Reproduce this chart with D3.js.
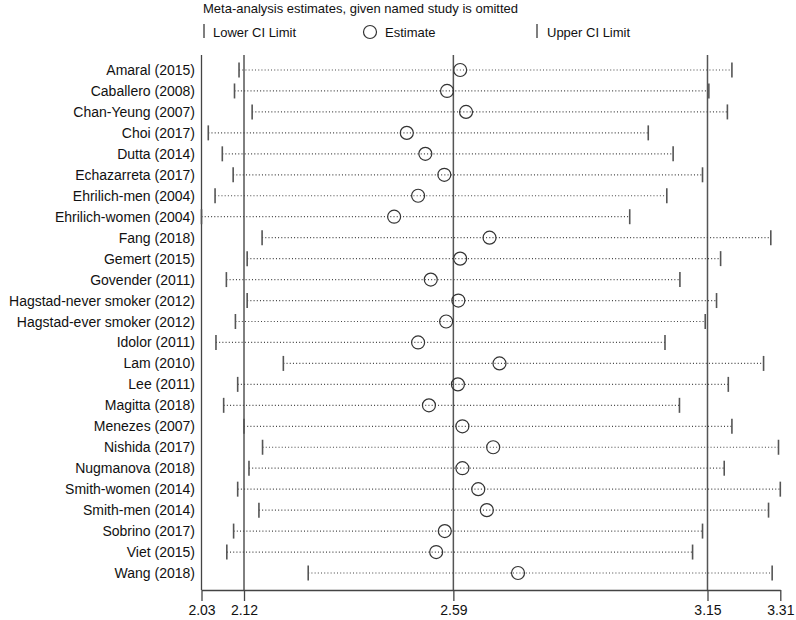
<!DOCTYPE html>
<html>
<head>
<meta charset="utf-8">
<script src="https://cdn.jsdelivr.net/npm/d3@7"></script>
<style>
  body { margin: 0; background: #fff; }
  text { font-family: "Liberation Sans", Arial, sans-serif; fill: #111; }
</style>
</head>
<body>
<script>
// Size of the canvas
var w = 796;
var h = 620;

// Studies omitted one at a time
var studies = ["Amaral (2015)", "Caballero (2008)", "Chan-Yeung (2007)", "Choi (2017)",
  "Dutta (2014)", "Echazarreta (2017)", "Ehrilich-men (2004)", "Ehrilich-women (2004)",
  "Fang (2018)", "Gemert (2015)", "Govender (2011)", "Hagstad-never smoker (2012)",
  "Hagstad-ever smoker (2012)", "Idolor (2011)", "Lam (2010)", "Lee (2011)", "Magitta (2018)",
  "Menezes (2007)", "Nishida (2017)", "Nugmanova (2018)", "Smith-women (2014)",
  "Smith-men (2014)", "Sobrino (2017)", "Viet (2015)", "Wang (2018)"];

// Estimates and CI limits
var estimate = [2.602, 2.573, 2.615, 2.484, 2.525, 2.567, 2.509, 2.456, 2.667, 2.602,
  2.537, 2.598, 2.571, 2.509, 2.689, 2.597, 2.533, 2.607, 2.675, 2.607, 2.642, 2.661,
  2.568, 2.549, 2.730];
var lower = [2.113, 2.103, 2.142, 2.045, 2.076, 2.100, 2.060, 2.030, 2.164, 2.131,
  2.085, 2.131, 2.105, 2.062, 2.211, 2.110, 2.079, 2.124, 2.165, 2.135, 2.110, 2.157,
  2.101, 2.086, 2.266];
var upper = [3.203, 3.152, 3.193, 3.018, 3.073, 3.138, 3.059, 2.977, 3.289, 3.178,
  3.088, 3.169, 3.144, 3.055, 3.273, 3.195, 3.087, 3.203, 3.306, 3.186, 3.310, 3.284,
  3.138, 3.116, 3.292];

// Overall estimate with its CI, and axis ticks
var overall = [2.124, 2.587, 3.149];
var tickValues = [2.03, 2.124, 2.587, 3.149, 3.31];

var data = studies.map(function(s, i) {
  return { study: s, est: estimate[i], lo: lower[i], hi: upper[i] };
});

var x = d3.scaleLinear()
    .domain([2.03, 3.31])
    .range([201.5, 780.3]);

var y = d3.scalePoint()
    .domain(studies)
    .range([70, 573]);

var svg = d3.select("body")
    .append("svg")
    .attr("width", w)
    .attr("height", h);

// Title and legend
svg.append("text")
    .attr("x", 203)
    .attr("y", 13)
    .style("font-size", "13px")
    .text("Meta-analysis estimates, given named study is omitted");

var legendY = 32;
svg.append("line")
    .attr("x1", 204).attr("x2", 204)
    .attr("y1", legendY - 8).attr("y2", legendY + 6)
    .attr("stroke", "#555").attr("stroke-width", 1.5);
svg.append("text")
    .attr("x", 213).attr("y", legendY + 5)
    .style("font-size", "13px")
    .text("Lower CI Limit");
svg.append("circle")
    .attr("cx", 370).attr("cy", legendY)
    .attr("r", 6.5)
    .attr("fill", "none").attr("stroke", "#333").attr("stroke-width", 1.2);
svg.append("text")
    .attr("x", 385).attr("y", legendY + 5)
    .style("font-size", "13px")
    .text("Estimate");
svg.append("line")
    .attr("x1", 537).attr("x2", 537)
    .attr("y1", legendY - 8).attr("y2", legendY + 6)
    .attr("stroke", "#555").attr("stroke-width", 1.5);
svg.append("text")
    .attr("x", 547).attr("y", legendY + 5)
    .style("font-size", "13px")
    .text("Upper CI Limit");

// Left frame line
svg.append("line")
    .attr("x1", x.range()[0]).attr("x2", x.range()[0])
    .attr("y1", 55).attr("y2", 590)
    .attr("stroke", "#444").attr("stroke-width", 1.3);

// Reference lines for the overall estimate and its CI
svg.selectAll("line.ref")
    .data(overall)
    .enter()
    .append("line")
    .attr("class", "ref")
    .attr("x1", function(d) { return x(d); })
    .attr("x2", function(d) { return x(d); })
    .attr("y1", 55)
    .attr("y2", 590)
    .attr("stroke", "#555")
    .attr("stroke-width", 1.5);

// Dotted CI lines
svg.selectAll("line.ci")
    .data(data)
    .enter()
    .append("line")
    .attr("class", "ci")
    .attr("x1", function(d) { return x(d.lo); })
    .attr("x2", function(d) { return x(d.hi); })
    .attr("y1", function(d) { return y(d.study); })
    .attr("y2", function(d) { return y(d.study); })
    .attr("stroke", "#444")
    .attr("stroke-width", 1.2)
    .attr("stroke-dasharray", "1,2.2");

// Lower and upper caps
[["lo", "cap-lo"], ["hi", "cap-hi"]].forEach(function(k) {
  svg.selectAll("line." + k[1])
      .data(data)
      .enter()
      .append("line")
      .attr("class", k[1])
      .attr("x1", function(d) { return x(d[k[0]]); })
      .attr("x2", function(d) { return x(d[k[0]]); })
      .attr("y1", function(d) { return y(d.study) - 7.5; })
      .attr("y2", function(d) { return y(d.study) + 7.5; })
      .attr("stroke", "#555")
      .attr("stroke-width", 1.6);
});

// Estimate circles
svg.selectAll("circle.est")
    .data(data)
    .enter()
    .append("circle")
    .attr("class", "est")
    .attr("cx", function(d) { return x(d.est); })
    .attr("cy", function(d) { return y(d.study); })
    .attr("r", 6.5)
    .attr("fill", "none")
    .attr("stroke", "#333")
    .attr("stroke-width", 1.2);

// Study labels
svg.selectAll("text.study")
    .data(data)
    .enter()
    .append("text")
    .attr("class", "study")
    .attr("x", 195)
    .attr("y", function(d) { return y(d.study) + 5; })
    .attr("text-anchor", "end")
    .style("font-size", "14px")
    .text(function(d) { return d.study; });

// Bottom axis
var axis = svg.append("g")
    .attr("transform", "translate(0,590)")
    .call(d3.axisBottom(x)
        .tickValues(tickValues)
        .tickFormat(d3.format(".2f"))
        .tickSize(11)
        .tickSizeOuter(0));
axis.select(".domain").attr("stroke", "#444").attr("stroke-width", 1.3);
axis.selectAll(".tick line").attr("stroke", "#444").attr("stroke-width", 1.3);
axis.selectAll(".tick text")
    .attr("dy", "0")
    .attr("y", 25)
    .style("font-size", "14px")
    .style("font-family", "'Liberation Sans', Arial, sans-serif")
    .attr("fill", "#111");
</script>
</body>
</html>
